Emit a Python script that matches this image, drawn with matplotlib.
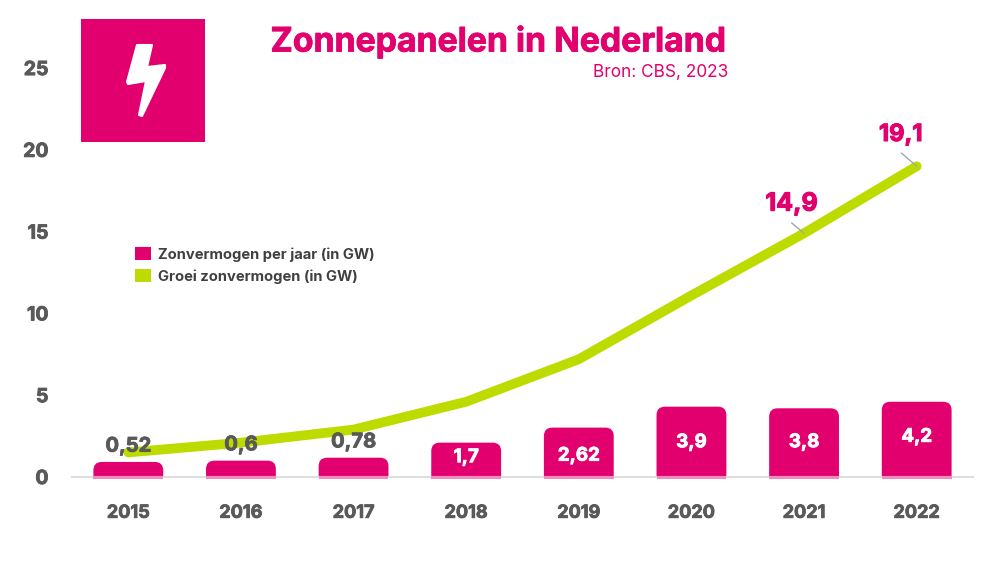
import matplotlib
matplotlib.use("Agg")
import matplotlib.pyplot as plt
import matplotlib.patheffects as pe
from matplotlib.patches import FancyBboxPatch, Patch, Polygon, Rectangle
from matplotlib.transforms import Affine2D

plt.rcParams['font.family'] = ['Inter', 'DejaVu Sans']

# data
jaren = ['2015', '2016', '2017', '2018', '2019', '2020', '2021', '2022']
per_jaar_labels = ['0,52', '0,6', '0,78', '1,7', '2,62', '3,9', '3,8', '4,2']
# bar heights as drawn in the picture, in axis units
per_jaar_hoogte = [0.92, 1.0, 1.18, 2.1, 3.02, 4.3, 4.2, 4.6]
groei = [1.5, 2.1, 2.9, 4.6, 7.2, 11.1, 14.9, 19.0]
y_ticks = [0, 5, 10, 15, 20, 25]

ROZE = '#e2006f'
GROEN = '#bedb00'
GRIJS = '#595959'
W, H = 1000, 565


def dik(t, breed=0.6):
    # Inter bold is lighter than the original font, thicken it a bit
    t.set_path_effects([pe.withStroke(linewidth=breed, foreground=t.get_color())])
    return t


fig = plt.figure(figsize=(10, 5.65), dpi=100)
ax = fig.add_axes([72 / W, (H - 477) / H, 901 / W, 458 / H])
ax.set_xlim(-0.5, 7.5)
ax.set_ylim(0, 28)
ax.patch.set_alpha(0)

for s in ['top', 'right', 'left']:
    ax.spines[s].set_visible(False)
ax.spines['bottom'].set_color('#dedede')
ax.spines['bottom'].set_linewidth(1.5)

ax.set_xticks(range(len(jaren)))
ax.set_xticklabels(jaren, fontsize=13, fontweight='bold', color=GRIJS)
ax.set_yticks(y_ticks)
ax.set_yticklabels(y_ticks, fontsize=14, fontweight='bold', color=GRIJS)
ax.tick_params(axis='x', length=0, pad=20)
ax.tick_params(axis='y', length=0, pad=17)
for t in ax.get_xticklabels() + ax.get_yticklabels():
    dik(t)

# bars with rounded top corners, the rounded bottom is clipped off at the axis
breedte = 0.62
aspect = (1 / 16.36) / (1 / 112.6)
for i, h in enumerate(per_jaar_hoogte):
    x0 = i - breedte / 2
    balk = FancyBboxPatch((x0, -2), breedte, h + 2,
                          boxstyle='round,pad=0,rounding_size=0.075',
                          mutation_aspect=aspect, fc=ROZE, ec='none', zorder=2)
    ax.add_patch(balk)
    balk.set_clip_path(Rectangle((x0 - 0.1, 0), breedte + 0.2, h + 1, transform=ax.transData))
    # pale strip over the axis line
    ax.bar(i, 0.17, breedte, bottom=-0.13, color='#f08cbc', zorder=3, clip_on=False)

ax.plot(range(len(jaren)), groei, color=GROEN, lw=7,
        solid_capstyle='round', solid_joinstyle='round', zorder=4)

# data labels
verschuif = {'1,7': 1.5, '2,62': -2.8, '3,9': -0.7, '3,8': 0, '4,2': 1.5}
for i, lab in enumerate(per_jaar_labels):
    h = per_jaar_hoogte[i]
    if i < 3:
        t = ax.annotate(lab, (i, h), xytext=(0, 11), textcoords='offset points',
                        ha='center', va='center', fontsize=14.5, fontweight='bold',
                        color=GRIJS, zorder=5)
    else:
        t = ax.annotate(lab, (i, h / 2), xytext=(0, verschuif[lab]), textcoords='offset points',
                        ha='center', va='center', fontsize=13.5, fontweight='bold',
                        color='white', zorder=5)
    dik(t)

# the two callouts on the line
for i, lab, dx, dy, grootte in [(7, '19,1', -11.5, 22.5, 17), (6, '14,9', -9, 21, 18)]:
    t = ax.annotate(lab, (i, groei[i]), xytext=(dx, dy), textcoords='offset points',
                    ha='center', va='center', fontsize=grootte, fontweight='bold',
                    color=ROZE, zorder=5)
    dik(t, 0.8)
ax.annotate('', (7, groei[7]), xytext=(-11, 9.5), textcoords='offset points',
            arrowprops=dict(arrowstyle='-', color='#a6a6a6', lw=1, shrinkA=0, shrinkB=0),
            zorder=5)
ax.annotate('', (6, groei[6]), xytext=(-9, 7.5), textcoords='offset points',
            arrowprops=dict(arrowstyle='-', color='#a6a6a6', lw=1, shrinkA=0, shrinkB=0),
            zorder=5)

# legend
handles = [Patch(fc=ROZE, label='Zonvermogen per jaar (in GW)'),
           Patch(fc=GROEN, label='Groei zonvermogen (in GW)')]
leg = ax.legend(handles=handles, loc='upper left', bbox_to_anchor=(63 / 901, 1 - 228 / 458),
                frameon=False, fontsize=10.6, handlelength=1.08, handleheight=1.0,
                handletextpad=0.5, labelspacing=0.5, borderpad=0, borderaxespad=0)
for t in leg.get_texts():
    t.set_color('#404040')
    t.set_fontweight('bold')

# title block
dik(fig.text(499 / W, 1 - 42 / H, 'Zonnepanelen in Nederland', ha='center', va='center',
             fontsize=24.3, fontweight='bold', color=ROZE), 0.6)
fig.text(728 / W, 1 - 72 / H, 'Bron: CBS, 2023', ha='right', va='center',
         fontsize=12.4, color=ROZE)

# icon, pixel coordinates from the top left
px = Affine2D().scale(1, -1).translate(0, H)
fig.patches.append(Rectangle((81, 19), 124, 123, fc=ROZE, ec='none',
                             transform=px, figure=fig))
bliksem = [(137, 45), (152, 45), (147, 67), (165, 65), (165, 68), (142, 116),
           (139, 115), (146, 81), (128, 84), (127, 82)]
fig.patches.append(Polygon(bliksem, closed=True, fc='white', ec='white', lw=1.5,
                           joinstyle='round', transform=px, figure=fig))

fig.savefig('out.png', dpi=100)
